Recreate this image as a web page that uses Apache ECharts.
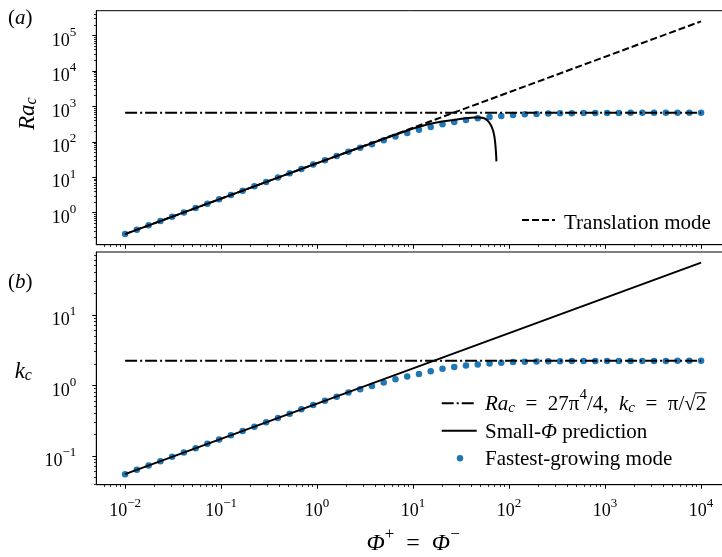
<!DOCTYPE html>
<html>
<head>
<meta charset="utf-8">
<script src="https://cdn.jsdelivr.net/npm/echarts@6/dist/echarts.min.js"></script>
<style>
  html, body { margin: 0; padding: 0; background: #fff; }
  #chart { width: 722px; height: 557px; }
</style>
</head>
<body>
<div id="chart"></div>
<script>
// Φ⁺ = Φ⁻ sample points (50 per 6 decades)
const phi = [0.01, 0.01326, 0.01758, 0.0233, 0.03089, 0.04095, 0.05429, 0.07197, 0.09541, 0.1265,
  0.1677, 0.2223, 0.2947, 0.3907, 0.5179, 0.6866, 0.9103, 1.207, 1.6, 2.121,
  2.812, 3.728, 4.942, 6.551, 8.685, 11.51, 15.26, 20.24, 26.83, 35.56,
  47.15, 62.51, 82.86, 109.9, 145.6, 193.1, 255.9, 339.3, 449.8, 596.4,
  790.6, 1048, 1389, 1842, 2442, 3237, 4292, 5690, 7543, 10000];

// fastest-growing mode: critical Rayleigh number
const raFastest = [0.25, 0.33, 0.44, 0.58, 0.77, 1.02, 1.36, 1.8, 2.38, 3.16,
  4.19, 5.56, 7.37, 9.77, 12.9, 17.2, 22.8, 30.2, 40, 52.5,
  68.5, 85.5, 111, 142, 177, 220, 262, 311, 364, 415,
  460, 505, 538, 574, 597, 613, 627, 637, 644, 648,
  651, 653, 654.5, 655.5, 656, 656.5, 657, 657, 657.3, 657.5];

// fastest-growing mode: critical wavenumber
const kFastest = [0.055, 0.0633, 0.0729, 0.084, 0.0967, 0.111, 0.128, 0.148, 0.17, 0.196,
  0.225, 0.259, 0.299, 0.344, 0.396, 0.456, 0.525, 0.603, 0.69, 0.79,
  0.88, 0.975, 1.096, 1.217, 1.333, 1.446, 1.58, 1.714, 1.812, 1.902,
  1.972, 2.038, 2.084, 2.132, 2.153, 2.175, 2.19, 2.2, 2.205, 2.21,
  2.213, 2.215, 2.217, 2.218, 2.219, 2.22, 2.22, 2.221, 2.221, 2.221];

// translation mode (straight line in log-log)
const raTranslation = [[0.01, 0.25], [10000, 250000]];

// small-Φ prediction of Ra_c
const raSmallPhi = [[0.01, 0.25], [0.1, 2.5], [1, 25], [3, 74], [5, 122], [8, 192], [10, 238],
  [15, 322], [20, 375], [26.5, 415], [32, 447], [38, 472], [43, 486], [48, 487], [52, 478],
  [56, 452], [59, 408], [62, 352], [64.5, 298], [66.5, 250], [68.5, 196], [70.3, 140],
  [71.6, 96], [72.6, 62], [73.3, 42], [73.8, 28]];

// small-Φ prediction of k_c
const kSmallPhi = [[0.01, 0.055], [10000, 55]];

// large-Φ limits: Ra_c = 27π⁴/4, k_c = π/√2
const raLimit = [[0.01, 657.46], [10000, 657.46]];
const kLimit = [[0.01, 2.2214], [10000, 2.2214]];

// axis ticks
const xTicks = [0.01, 0.1, 1, 10, 100, 1000, 10000];
const raTicks = [1, 10, 100, 1000, 10000, 100000];
const kTicks = [0.1, 1, 10];

const SERIF = 'Liberation Serif';
const BLUE = '#1f77b4';

function minorTicks(lo, hi) {
  const out = [];
  for (let e = lo; e <= hi; e++) {
    for (let m = 2; m <= 9; m++) out.push(m * Math.pow(10, e));
  }
  return out;
}

function powLabel(v) {
  const e = Math.round(Math.log10(v));
  const s = e < 0 ? '\u2212' + (-e) : String(e);
  return '{b|10}{s|' + s + '}';
}

function tok(size, lh, va, italic) {
  return {
    fontFamily: SERIF, fontSize: size, lineHeight: lh, verticalAlign: va,
    fontStyle: italic ? 'italic' : 'normal', fontWeight: 'normal', color: '#000'
  };
}

const tickRich = { b: tok(18, 24, 'bottom'), s: tok(13, 10, 'top') };

const mathRich = {
  n: tok(21, 28, 'bottom'),
  i: tok(21, 28, 'bottom', true),
  sub: tok(15, 14, 'bottom', true),
  sup: tok(15, 19, 'top')
};

const bigRich = {
  n: tok(23, 30, 'bottom'),
  i: tok(23, 30, 'bottom', true),
  sub: tok(16, 15, 'bottom', true),
  sup: tok(16, 20, 'top')
};

const titleRich = {
  n: tok(24, 30, 'bottom'),
  i: tok(24, 30, 'bottom', true),
  sup: tok(17, 21, 'top')
};

const X_MIN = Math.pow(10, -2.3), X_MAX = Math.pow(10, 4.3);
const RA_MIN = Math.pow(10, -0.902), RA_MAX = Math.pow(10, 5.698);
const K_MIN = Math.pow(10, -1.4096), K_MAX = Math.pow(10, 1.8904);

const axisLine = { show: true, lineStyle: { color: '#000', width: 1 } };

function mainX(gridIndex, labels) {
  return {
    type: 'log', logBase: 10, gridIndex, min: X_MIN, max: X_MAX,
    axisLine,
    splitLine: { show: false },
    axisTick: { show: true, inside: false, length: 4, customValues: xTicks, lineStyle: { color: '#000', width: 1 } },
    axisLabel: labels
      ? { show: true, customValues: xTicks, margin: 12, formatter: powLabel, rich: tickRich }
      : { show: false }
  };
}
function minorAxis(kind, gridIndex, min, max, values) {
  return {
    type: 'log', logBase: 10, gridIndex, min, max,
    position: kind === 'x' ? 'bottom' : 'left',
    axisLine: { show: false },
    splitLine: { show: false },
    axisTick: { show: true, inside: false, length: 2.3, customValues: values, lineStyle: { color: '#000', width: 0.8 } },
    axisLabel: { show: false }
  };
}
function mainY(gridIndex, min, max, ticks) {
  return {
    type: 'log', logBase: 10, gridIndex, min, max,
    axisLine,
    splitLine: { show: false },
    axisTick: { show: true, inside: false, length: 4, customValues: ticks, lineStyle: { color: '#000', width: 1 } },
    axisLabel: { show: true, customValues: ticks, margin: 20, formatter: powLabel, rich: tickRich, padding: [5, 0, 0, 0] }
  };
}

const EQ = '\u2002=\u2002';

const yRa = mainY(0, RA_MIN, RA_MAX, raTicks);
yRa.name = '{i|Ra}{sub|c}';
yRa.nameLocation = 'middle';
yRa.nameRotate = 90;
yRa.nameGap = 72;
yRa.nameTextStyle = { rich: bigRich, align: 'center', verticalAlign: 'middle', padding: [0, 0, 0, 28] };

const yK = mainY(1, K_MIN, K_MAX, kTicks);
yK.name = '{i|k}{sub|c}';
yK.nameLocation = 'middle';
yK.nameRotate = 0;
yK.nameGap = 73;
yK.nameTextStyle = { rich: bigRich, align: 'center', verticalAlign: 'middle' };

const xBottom = mainX(1, true);
xBottom.name = '{i|\u03A6}{sup|+}{n|' + EQ + '}{i|\u03A6}{sup|\u2212}';
xBottom.nameLocation = 'middle';
xBottom.nameGap = 56;
xBottom.nameTextStyle = { rich: titleRich, align: 'center', verticalAlign: 'middle' };

const chart = echarts.init(document.getElementById('chart'), null, { renderer: 'canvas' });

function lineSeries(xi, yi, data, width, type) {
  return {
    type: 'line', xAxisIndex: xi, yAxisIndex: yi, data,
    symbol: 'none', smooth: false, silent: true,
    lineStyle: { color: '#000', width, type }
  };
}
function dotSeries(xi, yi, ys) {
  return {
    type: 'scatter', xAxisIndex: xi, yAxisIndex: yi,
    data: phi.map((p, i) => [p, ys[i]]),
    symbol: 'circle', symbolSize: 6.5, silent: true,
    itemStyle: { color: BLUE, opacity: 1 }
  };
}

const DASHDOT = [12, 3, 2, 3];
const DASHED = [7, 3];

// the plot area runs a little past the right edge of the page
const PLOT_W = 633.6;
const gridBase = {
  left: 96.3, width: PLOT_W, show: true, borderColor: '#000', borderWidth: 1,
  backgroundColor: 'transparent', containLabel: false, outerBoundsMode: 'none'
};

chart.setOption({
  animation: false,
  backgroundColor: '#fff',
  grid: [
    Object.assign({ top: 10.7, height: 234 }, gridBase),
    Object.assign({ top: 252, height: 232.7 }, gridBase)
  ],
  xAxis: [
    mainX(0, false),
    minorAxis('x', 0, X_MIN, X_MAX, minorTicks(-3, 4)),
    xBottom,
    minorAxis('x', 1, X_MIN, X_MAX, minorTicks(-3, 4))
  ],
  yAxis: [
    yRa,
    minorAxis('y', 0, RA_MIN, RA_MAX, minorTicks(-1, 5)),
    yK,
    minorAxis('y', 1, K_MIN, K_MAX, minorTicks(-2, 1))
  ],
  title: [
    { text: '{n|(}{i|a}{n|)}', left: 8, top: 1, padding: 0, textStyle: { fontWeight: 'normal', rich: mathRich } },
    { text: '{n|(}{i|b}{n|)}', left: 8, top: 265, padding: 0, textStyle: { fontWeight: 'normal', rich: mathRich } },
    { text: '{n|Translation mode}', left: 564, top: 206.4, padding: 0, textStyle: { fontWeight: 'normal', rich: mathRich } },
    { text: '{i|Ra}{sub|c}{n|' + EQ + '27\u03C0}{sup|4}{n|/4,\u2002}{i|k}{sub|c}{n|' + EQ + '\u03C0/\u221A2}', left: 485, top: 387.2, padding: 0, textStyle: { fontWeight: 'normal', rich: mathRich } },
    { text: '{n|Small-}{i|\u03A6}{n| prediction}', left: 485, top: 414.9, padding: 0, textStyle: { fontWeight: 'normal', rich: mathRich } },
    { text: '{n|Fastest-growing mode}', left: 485, top: 442.2, padding: 0, textStyle: { fontWeight: 'normal', rich: mathRich } }
  ],
  graphic: [
    { type: 'line', shape: { x1: 522, y1: 220, x2: 555, y2: 220 }, style: { stroke: '#000', lineWidth: 2, lineDash: DASHED } },
    { type: 'line', shape: { x1: 441.7, y1: 403.3, x2: 476.7, y2: 403.3 }, style: { stroke: '#000', lineWidth: 2, lineDash: DASHDOT } },
    { type: 'line', shape: { x1: 441.7, y1: 430.7, x2: 476.7, y2: 430.7 }, style: { stroke: '#000', lineWidth: 2 } },
    { type: 'circle', shape: { cx: 460, cy: 458.3, r: 3.25 }, style: { fill: BLUE } },
    // vinculum over the 2 of √2
    { type: 'line', shape: { x1: 695, y1: 392.8, x2: 706.5, y2: 392.8 }, style: { stroke: '#000', lineWidth: 1 } }
  ],
  series: [
    lineSeries(0, 0, raLimit, 2, DASHDOT),
    lineSeries(0, 0, raTranslation, 2, DASHED),
    lineSeries(0, 0, raSmallPhi, 2, 'solid'),
    dotSeries(0, 0, raFastest),
    lineSeries(2, 2, kLimit, 2, DASHDOT),
    lineSeries(2, 2, kSmallPhi, 2, 'solid'),
    dotSeries(2, 2, kFastest)
  ]
});
</script>
</body>
</html>
